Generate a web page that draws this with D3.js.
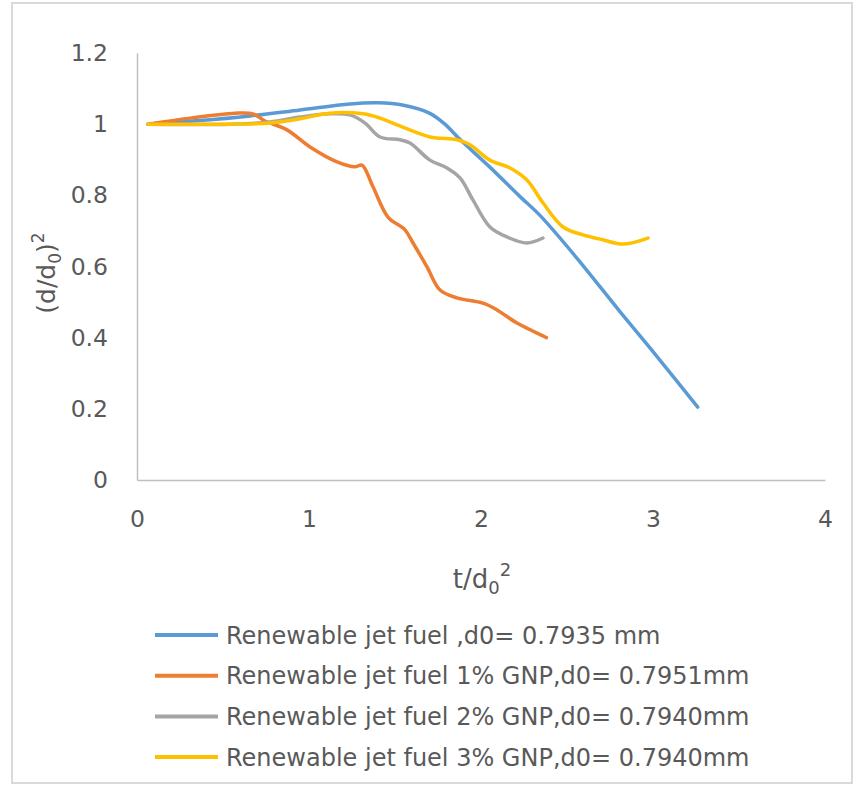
<!DOCTYPE html>
<html>
<head>
<meta charset="utf-8">
<script src="https://cdn.jsdelivr.net/npm/d3@7"></script>
<style>
  body { margin: 0; background: #fff; }
  svg { display: block; }
  text { font-family: "DejaVu Sans", sans-serif; fill: #595959; }
</style>
</head>
<body>
<svg id="chart" width="857" height="788"></svg>
<script>
// series: t/d0^2 and (d/d0)^2
const blueT = [0.064, 0.366, 0.657, 0.948, 1.238, 1.40, 1.55, 1.70, 1.79, 1.88, 2.05, 2.23, 2.34, 2.55, 2.81, 3.04, 3.26];
const blueV = [1.0, 1.01, 1.023, 1.04, 1.057, 1.06, 1.053, 1.031, 1.0, 0.956, 0.88, 0.795, 0.745, 0.628, 0.472, 0.337, 0.205];

const orangeT = [0.064, 0.308, 0.57, 0.674, 0.744, 0.872, 1.006, 1.163, 1.267, 1.308, 1.372, 1.459, 1.558, 1.605, 1.686, 1.762, 1.86, 2.012, 2.093, 2.209, 2.36, 2.38];
const orangeV = [1.0, 1.017, 1.031, 1.029, 1.009, 0.984, 0.936, 0.894, 0.88, 0.885, 0.824, 0.739, 0.703, 0.666, 0.599, 0.534, 0.512, 0.497, 0.478, 0.441, 0.405, 0.40];

const grayT = [0.064, 0.541, 0.773, 0.948, 1.122, 1.238, 1.326, 1.413, 1.529, 1.587, 1.703, 1.802, 1.878, 1.953, 2.052, 2.151, 2.267, 2.36];
const grayV = [1.0, 1.0, 1.006, 1.02, 1.029, 1.026, 1.003, 0.964, 0.956, 0.947, 0.899, 0.877, 0.849, 0.787, 0.711, 0.683, 0.666, 0.68];

const yellowT = [0.064, 0.541, 0.773, 0.948, 1.122, 1.314, 1.413, 1.512, 1.703, 1.86, 1.936, 2.052, 2.169, 2.267, 2.36, 2.477, 2.593, 2.709, 2.826, 2.971];
const yellowV = [1.0, 1.0, 1.003, 1.015, 1.031, 1.029, 1.017, 0.998, 0.964, 0.956, 0.942, 0.899, 0.877, 0.843, 0.779, 0.711, 0.689, 0.675, 0.663, 0.68];

const seriesNames = [
  'Renewable jet fuel ,d0= 0.7935 mm',
  'Renewable jet fuel 1% GNP,d0= 0.7951mm',
  'Renewable jet fuel 2% GNP,d0= 0.7940mm',
  'Renewable jet fuel 3% GNP,d0= 0.7940mm'
];
const seriesColors = ['#5b9bd5', '#ed7d31', '#a5a5a5', '#ffc000'];
const xTicks = [0, 1, 2, 3, 4];
const yTicks = [0, 0.2, 0.4, 0.6, 0.8, 1, 1.2];

const series = [[blueT, blueV], [orangeT, orangeV], [grayT, grayV], [yellowT, yellowV]]
  .map(([t, v], i) => ({ name: seriesNames[i], color: seriesColors[i], pts: t.map((d, j) => [d, v[j]]) }));

const svg = d3.select('#chart');

// outer chart frame
svg.append('rect')
  .attr('x', 12).attr('y', 3).attr('width', 840).attr('height', 780)
  .attr('fill', 'none').attr('stroke', '#d9d9d9').attr('stroke-width', 2);

const x = d3.scaleLinear().domain([0, 4]).range([137, 825]);
const y = d3.scaleLinear().domain([0, 1.2]).range([480, 53]);

const gx = svg.append('g').attr('transform', 'translate(0,480)')
  .call(d3.axisBottom(x).tickValues(xTicks).tickSize(0).tickPadding(30).tickFormat(d3.format('d')));
const gy = svg.append('g').attr('transform', 'translate(137,0)')
  .call(d3.axisLeft(y).tickValues(yTicks).tickSize(0).tickPadding(29).tickFormat(d => d));
[gx, gy].forEach(g => {
  g.select('.domain').attr('stroke', '#bfbfbf').attr('stroke-width', 1.5);
  g.selectAll('text').attr('font-size', 23.5).attr('fill', '#595959')
    .style('font-family', '"DejaVu Sans", sans-serif');
});

const line = d3.line()
  .x(d => x(d[0]))
  .y(d => y(d[1]))
  .curve(d3.curveCatmullRom.alpha(0.5));

svg.append('g').selectAll('path')
  .data(series)
  .join('path')
  .attr('d', d => line(d.pts))
  .attr('fill', 'none')
  .attr('stroke', d => d.color)
  .attr('stroke-width', 3.5)
  .attr('stroke-linecap', 'round')
  .attr('stroke-linejoin', 'round');

// axis titles
const xt = svg.append('text').attr('x', 482).attr('y', 588)
  .attr('text-anchor', 'middle').attr('font-size', 26);
xt.append('tspan').text('t/d');
xt.append('tspan').attr('font-size', 18).attr('dy', 6).text('0');
xt.append('tspan').attr('font-size', 18).attr('dy', -18).text('2');

const yt = svg.append('text')
  .attr('transform', 'translate(55,273) rotate(-90)')
  .attr('text-anchor', 'middle').attr('font-size', 25);
yt.append('tspan').text('(d/d');
yt.append('tspan').attr('font-size', 17).attr('dy', 6).text('0');
yt.append('tspan').attr('dy', -6).text(')');
yt.append('tspan').attr('font-size', 17).attr('dy', -11).text('2');

// legend
const legend = svg.append('g').selectAll('g')
  .data(series)
  .join('g')
  .attr('transform', (d, i) => `translate(155,${635 + i * 40.7})`);
legend.append('line')
  .attr('x1', 0).attr('x2', 63)
  .attr('stroke', d => d.color).attr('stroke-width', 4);
legend.append('text')
  .attr('x', 71).attr('dy', '0.36em')
  .attr('font-size', 24)
  .text(d => d.name);
</script>
</body>
</html>
